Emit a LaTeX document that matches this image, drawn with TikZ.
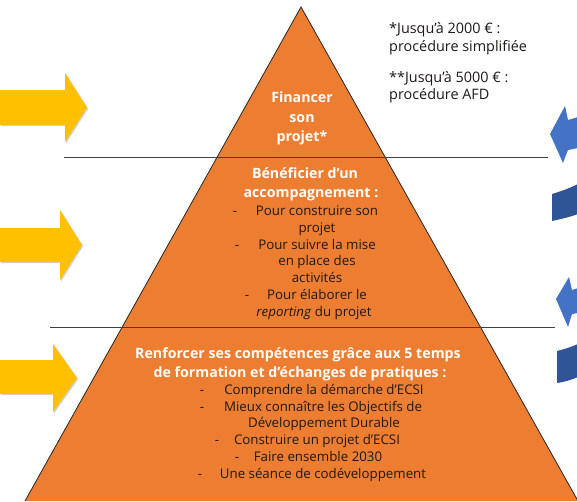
\documentclass[tikz,border=0pt]{standalone}
\usepackage{fontspec}
\setmainfont{Open Sans}
\usetikzlibrary{shadows}
\definecolor{pyr}{HTML}{ED7D31}
\definecolor{arrY}{HTML}{FFC000}
\definecolor{arrB}{HTML}{4472C4}
\definecolor{arrBd}{HTML}{2F5597}
\definecolor{txt}{HTML}{1E1A17}
\definecolor{sep}{HTML}{404040}
\tikzset{
  hd/.style={font=\bfseries\fontsize{14.2}{16}\selectfont, text=white, anchor=base, inner sep=0pt},
  li/.style={font=\fontsize{13.3}{15}\selectfont, text=txt, anchor=base, inner sep=0pt},
  note/.style={font=\fontsize{14.4}{16}\selectfont, text=txt, anchor=base west, inner sep=0pt},
  yarrow/.style={fill=arrY, drop shadow={shadow xshift=1.2pt, shadow yshift=-1.2pt, opacity=.3, fill=black!60}},
  sepline/.style={draw=sep, line width=1pt},
}
\begin{document}
\begin{tikzpicture}[x=1pt,y=-1pt]
\useasboundingbox (0,0) rectangle (577,501);
\clip (0,0) rectangle (577,501);
% pyramid
\fill[pyr] (25,501) -- (301,7) -- (578,501) -- cycle;
\draw[black!85, line width=0.8pt] (25,501) -- (301,7) -- (578,501);
% separators
\coordinate (s1a) at (64,157); \coordinate (s1b) at (548,157);
\coordinate (s2a) at (50,327); \coordinate (s2b) at (555,327);
\draw[sepline] (s1a) -- (s1b);
\draw[sepline] (s2a) -- (s2b);
% yellow arrows
\path[yarrow] (0,90) -- (65,90) -- (65,73) -- (87,107.5) -- (65,142) -- (65,125) -- (0,125) -- cycle;
\path[yarrow] (0,228) -- (60,228) -- (60,210) -- (82,245) -- (60,280) -- (60,262) -- (0,262) -- cycle;
\path[yarrow] (0,360) -- (53,360) -- (53,344) -- (77,378) -- (53,412) -- (53,394) -- (0,394) -- cycle;
% blue curved arrows (cut by the edge)
\fill[arrBd] (552,194) .. controls (562,191) and (570,188) .. (578,184) -- (578,214) .. controls (570,217) and (561,219) .. (552,221) -- cycle;
\fill[arrB] (550,134) -- (565,106) -- (568,120) -- (578,117) -- (578,148) -- (568,150) -- (563,163) -- cycle;
\fill[arrBd] (557,351) .. controls (565,349) and (571,347) .. (578,344) -- (578,377) .. controls (571,380) and (564,382) .. (557,383) -- cycle;
\fill[arrB] (556,299) -- (569,277) -- (572,290) -- (578,288) -- (578,313) -- (572,314) -- (568,327) -- cycle;
% top section
\node[hd] (t1) at (302,102) {Financer};
\node[hd] (t2) at (302,122) {son};
\node[hd] (t3) at (302,141) {projet*};
% middle section
\node[hd] (b1) at (305,178) {Bénéficier d’un};
\node[hd] (b2) at (311,197) {accompagnement :};
\node[li] (b3) at (317,215) {Pour construire son};
\node[li] (b4) at (317,232) {projet};
\node[li] (b5) at (317,249) {Pour suivre la mise};
\node[li] (b6) at (317,265.5) {en place des};
\node[li] (b7) at (317,282.5) {activités};
\node[li] (b8) at (317,299.5) {Pour élaborer le};
\node[li] (b9) at (314,316.5) {\textit{reporting} du projet};
\node[li] (bd1) at (235,215) {-};
\node[li] (bd2) at (237,249) {-};
\node[li] (bd3) at (247,299.5) {-};
% bottom section
\node[hd] (c1) at (298,358) {Renforcer ses compétences grâce aux 5 temps};
\node[hd] (c2) at (300,377) {de formation et d’échanges de pratiques :};
\node[li] (c3) at (324,394) {Comprendre la démarche d’ECSI};
\node[li] (c4) at (323,411) {Mieux connaître les Objectifs de};
\node[li] (c5) at (324,427.5) {Développement Durable};
\node[li] (c6) at (317,444.5) {Construire un projet d’ECSI};
\node[li] (c7) at (318,461) {Faire ensemble 2030};
\node[li] (c8) at (323,478) {Une séance de codéveloppement};
\node[li] (cd1) at (202,394) {-};
\node[li] (cd2) at (202,411) {-};
\node[li] (cd3) at (217,444.5) {-};
\node[li] (cd4) at (237,461) {-};
\node[li] (cd5) at (200,478) {-};
% notes
\node[note] (n1) at (389,33) {*Jusqu’à 2000 € :};
\node[note] (n2) at (389,51) {procédure simplifiée};
\node[note] (n3) at (389,82) {**Jusqu’à 5000 € :};
\node[note] (n4) at (389,99) {procédure AFD};
\end{tikzpicture}
\end{document}
